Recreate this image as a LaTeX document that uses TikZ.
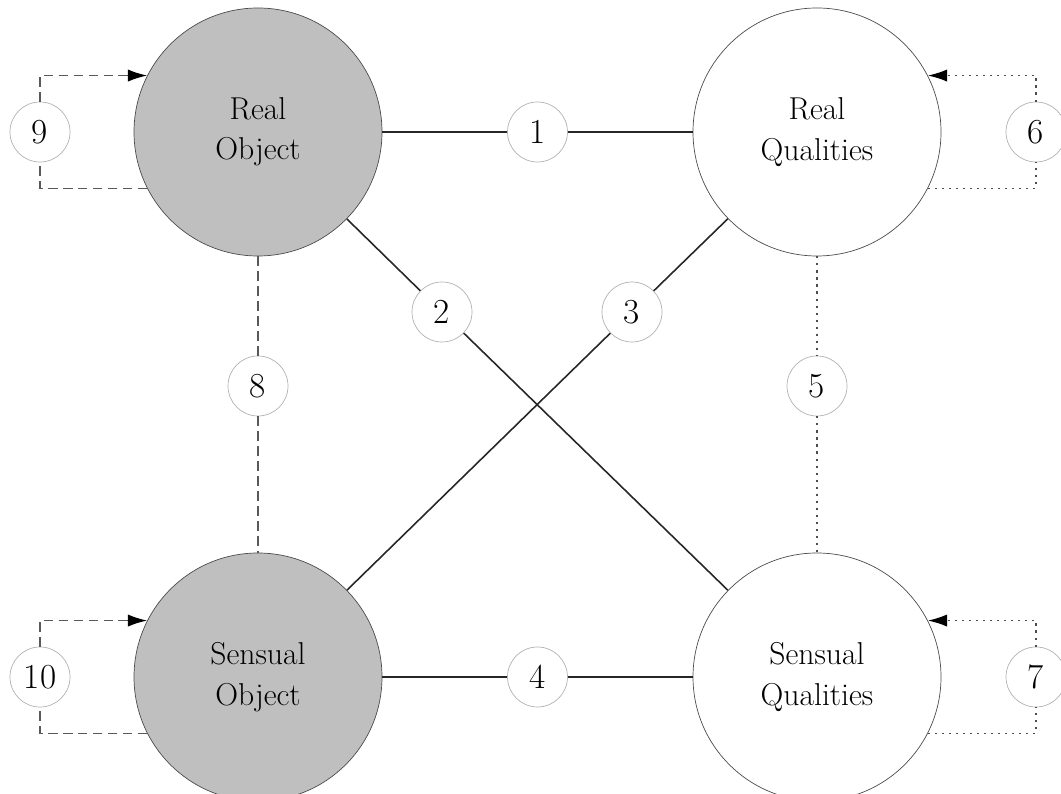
\documentclass[tikz,border=0pt]{standalone}
\usepackage{tikz}
\usetikzlibrary{arrows.meta,positioning}
\begin{document}
\begin{tikzpicture}

\tikzset{entity/.style={
  circle,
  inner sep=0pt,
  minimum size=49.6mm,
  align=center,
  draw=black!70, thin,
  font=\fontsize{18}{23}\selectfont
  },
  obj/.style={entity, fill=black!25},
  qual/.style={entity, fill=white},
  num/.style={circle, draw=black!30, fill=white, inner sep=0pt,
    minimum size=12mm, font=\fontsize{20}{24}\selectfont},
  tie/.style={draw=black!85, line width=0.9pt},
  dashtie/.style={draw=black!65, line width=0.9pt, dash pattern=on 5.5pt off 3pt},
  dottie/.style={draw=black!70, line width=0.9pt, dash pattern=on 1.2pt off 2.8pt},
  loopend/.style={-{Latex[length=11pt,width=7pt,black]}}
}

\useasboundingbox (0,0) rectangle (21.22,15.88);

\node[obj] (RO) at (5.16,13.24) {Real\\Object};
\node[qual] (RQ) at (16.34,13.24) {Real\\Qualities};
\node[obj] (SO) at (5.16,2.34) {Sensual\\Object};
\node[qual] (SQ) at (16.34,2.34) {Sensual\\Qualities};

\node[num] (n1) at (10.75,13.24) {1};
\node[num] (n2) at (8.84,9.64) {2};
\node[num] (n3) at (12.64,9.64) {3};
\node[num] (n4) at (10.75,2.34) {4};
\node[num] (n5) at (16.34,8.16) {5};
\node[num] (n6) at (20.72,13.24) {6};
\node[num] (n7) at (20.72,2.34) {7};
\node[num] (n8) at (5.16,8.16) {8};
\node[num] (n9) at (0.8,13.24) {9};
\node[num] (n10) at (0.8,2.34) {10};

% solid ties
\path[tie] (RO) -- (n1) -- (RQ);
\path[tie] (SO) -- (n4) -- (SQ);
\path[tie] (RO) -- (n2) -- (SQ);
\path[tie] (RQ) -- (n3) -- (SO);

% dashed and dotted ties
\path[dashtie] (RO) -- (n8) -- (SO);
\path[dottie] (RQ) -- (n5) -- (SQ);

% loops
\path[dashtie, loopend] (RO.207) -| (n9) |- (RO.153);
\path[dashtie, loopend] (SO.207) -| (n10) |- (SO.153);
\path[dottie, loopend] (RQ.-27) -| (n6) |- (RQ.27);
\path[dottie, loopend] (SQ.-27) -| (n7) |- (SQ.27);
\end{tikzpicture}
\end{document}
